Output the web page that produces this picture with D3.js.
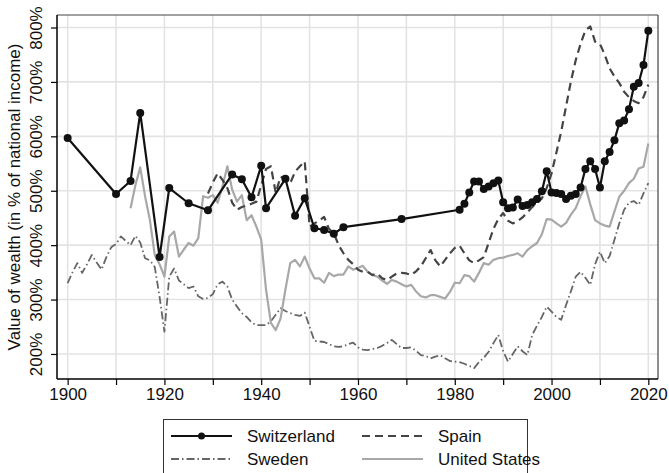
<!DOCTYPE html>
<html><head><meta charset="utf-8">
<script src="https://cdn.jsdelivr.net/npm/d3@7"></script>
<style>
body{margin:0;background:#fff;}
text{font-family:"Liberation Sans",Arial,sans-serif;}
</style></head>
<body>
<svg id="chart" width="669" height="473"></svg>
<script>
// ---------- DATA ----------
const chYears = [1900,1910,1913,1915,1919,1921,1925,1929,1934,1936,1938,1940,1941,1945,1947,1949,1951,1953,1955,1957,1969,1981,1982,1983,1984,1985,1986,1987,1988,1989,1990,1991,1992,1993,1994,1995,1996,1997,1998,1999,2000,2001,2002,2003,2004,2005,2006,2007,2008,2009,2010,2011,2012,2013,2014,2015,2016,2017,2018,2019,2020];
const chValues = [597,494,518,643,378,505,477,464,530,521,488,546,468,522,454,486,431,428,421,433,448,465,476,497,517,517,503,508,514,519,479,468,469,484,472,474,479,485,499,536,497,496,494,485,491,494,506,540,554,540,506,554,571,593,624,629,650,691,698,731,794];

const esYears = d3.range(1929, 2021);
const esValues = [495,515,532,520,505,478,465,470,473,476,480,510,540,545,496,526,520,514,535,545,554,
  434,440,445,452,430,422,400,385,373,365,355,351,351,345,348,339,336,342,348,349,348,345,352,361,376,391,372,361,373,385,395,
  399,385,372,367,372,378,404,430,448,459,445,440,444,451,460,470,478,486,505,532,570,609,655,701,740,770,795,802,774,770,750,725,710,698,682,672,665,661,672,695];

const seYears = d3.range(1900, 2021);
const seValues = [330,350,367,349,365,382,368,355,378,396,402,416,408,400,417,405,376,372,360,305,241,342,357,335,328,321,324,306,301,303,
  310,328,333,324,300,287,275,268,258,253,253,253,260,272,284,279,275,272,270,276,250,224,223,222,218,214,213,214,218,221,
  212,208,207,209,211,215,220,226,218,211,211,212,206,198,196,192,195,198,192,187,186,185,182,178,174,185,193,204,220,235,
  205,186,200,214,205,198,235,252,268,287,278,268,263,290,315,342,351,340,327,365,388,367,380,410,440,465,478,481,474,495,514];

const usYears = d3.range(1913, 2021);
const usValues = [468,510,543,490,446,382,365,342,416,425,379,392,404,399,413,490,487,492,478,508,545,502,480,492,446,455,434,410,318,257,
  244,265,318,367,373,361,379,357,339,339,331,349,343,346,346,361,355,358,362,351,345,342,335,329,336,333,328,324,327,315,
  306,304,308,308,305,302,314,331,330,345,343,333,349,367,364,373,376,377,380,382,385,379,391,398,404,420,448,447,440,434,
  441,456,468,490,508,475,446,440,436,434,462,489,500,514,522,541,544,587];

const xTicks = d3.range(1900, 2021, 10);
const xLabels = [1900,1920,1940,1960,1980,2000,2020];
const yTicks = [200,300,400,500,600,700,800];
const seriesNames = ["Switzerland","Spain","Sweden","United States"];

// ---------- CHART ----------
const svg = d3.select("#chart");
const L = 57, R = 658, T = 15, B = 379;
const x = d3.scaleLinear().domain([1897.8, 2022]).range([L, R]);
const y = d3.scaleLinear().domain([154, 823]).range([B, T]);

// gridlines
svg.append("g").selectAll("line").data(xTicks).join("line")
  .attr("x1", d => x(d)).attr("x2", d => x(d)).attr("y1", T).attr("y2", B)
  .attr("stroke", "#e3e3e3").attr("stroke-width", 1.6);
svg.append("g").selectAll("line").data(yTicks).join("line")
  .attr("y1", d => y(d)).attr("y2", d => y(d)).attr("x1", L).attr("x2", R)
  .attr("stroke", "#e3e3e3").attr("stroke-width", 1.6);

// frame top/right
svg.append("line").attr("x1", L).attr("x2", R).attr("y1", T).attr("y2", T).attr("stroke", "#444").attr("stroke-width", 1.2);
svg.append("line").attr("x1", R).attr("x2", R).attr("y1", T).attr("y2", B).attr("stroke", "#444").attr("stroke-width", 1.2);

// axes
const xAxis = d3.axisBottom(x).tickValues(xTicks).tickSize(6)
  .tickFormat(d => xLabels.includes(d) ? String(d) : "");
const gx = svg.append("g").attr("transform", `translate(0,${B})`).call(xAxis);
gx.select(".domain").attr("stroke", "#000").attr("stroke-width", 1.5).attr("d", `M${L},0H${R}`);
gx.selectAll(".tick line").attr("stroke", "#000").attr("stroke-width", 1.2);
gx.selectAll(".tick text").attr("font-size", 17).attr("fill", "#111").attr("y", 9).attr("dy", "0.71em")
  .style("font-family", "Liberation Sans, Arial, sans-serif");

const yAxis = d3.axisLeft(y).tickValues(yTicks).tickSize(6).tickFormat(d => d + "%");
const gy = svg.append("g").attr("transform", `translate(${L},0)`).call(yAxis);
gy.select(".domain").attr("stroke", "#000").attr("stroke-width", 1.5).attr("d", `M0,${T}V${B}`);
gy.selectAll(".tick line").attr("stroke", "#000").attr("stroke-width", 1.2);
gy.selectAll(".tick text").attr("font-size", 17).attr("fill", "#111")
  .attr("x", null).attr("dy", null)
  .attr("text-anchor", "middle")
  .attr("transform", "translate(-15,0) rotate(-90)")
  .style("font-family", "Liberation Sans, Arial, sans-serif");

// y title
svg.append("text").attr("transform", `translate(20,${(T + B) / 2}) rotate(-90)`)
  .attr("text-anchor", "middle").attr("font-size", 17).attr("fill", "#111")
  .text("Value of wealth (in % of national income)");

// series
const line = d3.line().x(d => x(d[0])).y(d => y(d[1]));
const zip = (a, b) => a.map((v, i) => [v, b[i]]);

const sty = {
  "Sweden": {stroke: "#666", w: 1.8, dash: "8,3,1.5,3"},
  "United States": {stroke: "#a8a8a8", w: 2.2, dash: null},
  "Spain": {stroke: "#444", w: 2.2, dash: "8,5"},
  "Switzerland": {stroke: "#111", w: 2.2, dash: null}
};
const data = {
  "Switzerland": zip(chYears, chValues),
  "Spain": zip(esYears, esValues),
  "Sweden": zip(seYears, seValues),
  "United States": zip(usYears, usValues)
};
["Sweden","United States","Spain","Switzerland"].forEach(n => {
  svg.append("path").datum(data[n]).attr("d", line).attr("fill", "none")
    .attr("stroke", sty[n].stroke).attr("stroke-width", sty[n].w)
    .attr("stroke-dasharray", sty[n].dash).attr("stroke-linejoin", "round");
});
svg.append("g").selectAll("circle").data(data["Switzerland"]).join("circle")
  .attr("cx", d => x(d[0])).attr("cy", d => y(d[1])).attr("r", 4).attr("fill", "#111");

// legend
const lg = svg.append("g");
lg.append("rect").attr("x", 163.5).attr("y", 419.5).attr("width", 364).attr("height", 70)
  .attr("fill", "#fff").attr("stroke", "#333").attr("stroke-width", 1);
const pos = [
  {n: "Switzerland", x: 171, y: 436},
  {n: "Spain", x: 362, y: 436},
  {n: "Sweden", x: 171, y: 459},
  {n: "United States", x: 362, y: 459}
];
pos.forEach(p => {
  const s = sty[p.n];
  lg.append("line").attr("x1", p.x).attr("x2", p.x + 61).attr("y1", p.y).attr("y2", p.y)
    .attr("stroke", s.stroke).attr("stroke-width", s.w).attr("stroke-dasharray", s.dash);
  if (p.n === "Switzerland") lg.append("circle").attr("cx", p.x + 30.5).attr("cy", p.y).attr("r", 3.5).attr("fill", "#111");
  lg.append("text").attr("x", p.x + 76).attr("y", p.y + 6).attr("font-size", 17).attr("fill", "#111").text(p.n);
});
</script>
</body></html>
